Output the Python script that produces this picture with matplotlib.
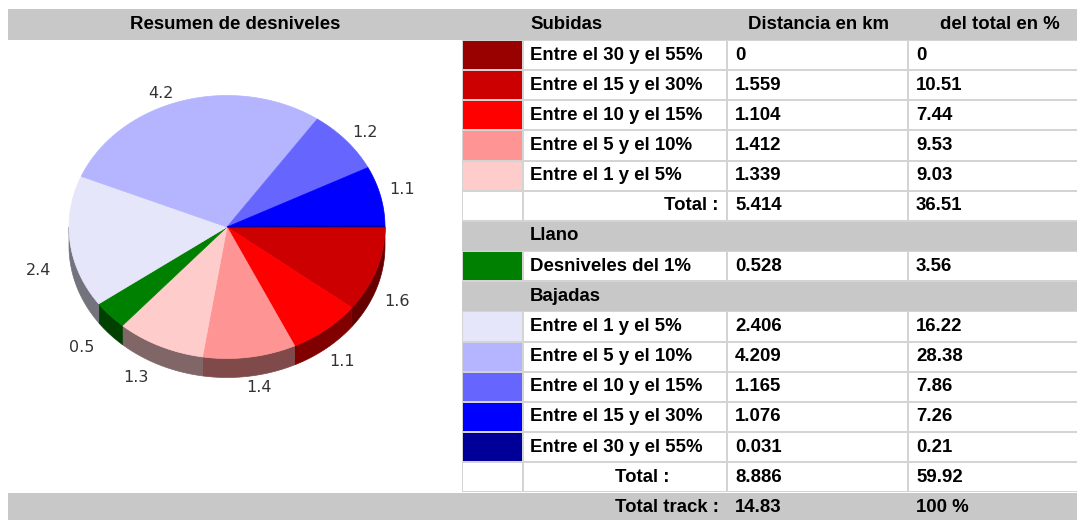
import numpy as np
import matplotlib
matplotlib.use("Agg")
import matplotlib.pyplot as plt
from matplotlib.patches import Rectangle, Polygon

# ---------------- data ----------------
title = "Resumen de desniveles"
col_headers = ["Subidas", "Distancia en km", "del total en %"]

sub_labels = ["Entre el 30 y el 55%", "Entre el 15 y el 30%", "Entre el 10 y el 15%",
              "Entre el 5 y el 10%", "Entre el 1 y el 5%"]
sub_km = [0, 1.559, 1.104, 1.412, 1.339]
sub_pct = [0, 10.51, 7.44, 9.53, 9.03]
sub_colors = ["#990000", "#cc0000", "#ff0000", "#ff9494", "#ffcccc"]
sub_total_km, sub_total_pct = 5.414, 36.51

llano_label = "Desniveles del 1%"
llano_km, llano_pct = 0.528, 3.56
llano_color = "#008000"

baj_labels = ["Entre el 1 y el 5%", "Entre el 5 y el 10%", "Entre el 10 y el 15%",
              "Entre el 15 y el 30%", "Entre el 30 y el 55%"]
baj_km = [2.406, 4.209, 1.165, 1.076, 0.031]
baj_pct = [16.22, 28.38, 7.86, 7.26, 0.21]
baj_colors = ["#e6e6fa", "#b4b4ff", "#6666ff", "#0000ff", "#000099"]
baj_total_km, baj_total_pct = 8.886, 59.92

track_total_km, track_total_pct = 14.83, 100

# ---------------- helpers ----------------
def fmt_km(v):
    return "0" if v == 0 else f"{v:.3f}"

def fmt_pct(v):
    return "0" if v == 0 else f"{v:.2f}"

W, H = 1077, 520
fig = plt.figure(figsize=(W / 100, H / 100), dpi=100)
ax = fig.add_axes([0, 0, 1, 1])
ax.set_xlim(0, W)
ax.set_ylim(H, 0)
ax.axis("off")

HDR_GRAY = "#c8c8c8"
LINE_GRAY = "#d4d4d4"
FONT = "Liberation Sans"
FS = 13.4

# ---------------- table geometry ----------------
cols = [462, 523, 727, 908, 1079]
y_hdr0, y_hdr1 = 9, 40
row_h = 30.15

def row_y(k):
    return y_hdr1 + row_h * k

# header band (full width)
ax.add_patch(Rectangle((8, y_hdr0), W - 8, y_hdr1 - y_hdr0, fc=HDR_GRAY, ec="none"))
ax.text(235, (y_hdr0 + y_hdr1) / 2, title, fontsize=FS, fontweight="bold", family=FONT,
        ha="center", va="center")
ax.text(530, (y_hdr0 + y_hdr1) / 2, col_headers[0], fontsize=FS, fontweight="bold",
        family=FONT, ha="left", va="center")
ax.text(818, (y_hdr0 + y_hdr1) / 2, col_headers[1], fontsize=FS, fontweight="bold",
        family=FONT, ha="center", va="center")
ax.text(1000, (y_hdr0 + y_hdr1) / 2, col_headers[2], fontsize=FS, fontweight="bold",
        family=FONT, ha="center", va="center")

# table background (borders)
ax.add_patch(Rectangle((cols[0], y_hdr1), W - cols[0], row_y(15) - y_hdr1, fc=LINE_GRAY, ec="none"))

def white_row(k, swatch=None):
    y0, y1 = row_y(k), row_y(k + 1)
    for i in range(4):
        fc = "white"
        if i == 0 and swatch is not None:
            fc = swatch
        ax.add_patch(Rectangle((cols[i] + 1, y0 + 1), cols[i + 1] - cols[i] - 2, y1 - y0 - 2,
                               fc=fc, ec="none"))

def gray_row(k, text):
    y0, y1 = row_y(k), row_y(k + 1)
    ax.add_patch(Rectangle((cols[0], y0 + 1), W - cols[0], y1 - y0 - 1, fc=HDR_GRAY, ec="none"))
    ax.text(530, (y0 + y1) / 2, text, fontsize=FS, fontweight="bold", family=FONT,
            ha="left", va="center")

def row_texts(k, label, km, pct, label_x=530, ha="left"):
    yc = (row_y(k) + row_y(k + 1)) / 2
    ax.text(label_x, yc, label, fontsize=FS, fontweight="bold", family=FONT, ha=ha, va="center")
    ax.text(735, yc, km, fontsize=FS, fontweight="bold", family=FONT, ha="left", va="center")
    ax.text(916, yc, pct, fontsize=FS, fontweight="bold", family=FONT, ha="left", va="center")

k = 0
for lab, km, pc, col in zip(sub_labels, sub_km, sub_pct, sub_colors):
    white_row(k, col)
    row_texts(k, lab, fmt_km(km), fmt_pct(pc))
    k += 1
white_row(k)
row_texts(k, "Total :", fmt_km(sub_total_km), fmt_pct(sub_total_pct), label_x=719, ha="right")
k += 1
gray_row(k, "Llano")
k += 1
white_row(k, llano_color)
row_texts(k, llano_label, fmt_km(llano_km), fmt_pct(llano_pct))
k += 1
gray_row(k, "Bajadas")
k += 1
for lab, km, pc, col in zip(baj_labels, baj_km, baj_pct, baj_colors):
    white_row(k, col)
    row_texts(k, lab, fmt_km(km), fmt_pct(pc))
    k += 1
white_row(k)
row_texts(k, "Total :", fmt_km(baj_total_km), fmt_pct(baj_total_pct), label_x=642, ha="center")
k += 1
# total track band (full width)
y0 = row_y(k)
ax.add_patch(Rectangle((8, y0 + 1), W - 8, H - y0, fc=HDR_GRAY, ec="none"))
yc = y0 + row_h / 2
ax.text(719, yc, "Total track :", fontsize=FS, fontweight="bold", family=FONT, ha="right", va="center")
ax.text(735, yc, f"{track_total_km:.2f}", fontsize=FS, fontweight="bold", family=FONT, ha="left", va="center")
ax.text(916, yc, f"{track_total_pct} %", fontsize=FS, fontweight="bold", family=FONT, ha="left", va="center")

# ---------------- 3D pie ----------------
pie_vals = np.array(sub_km + [llano_km] + baj_km, dtype=float)
pie_cols = sub_colors + [llano_color] + baj_colors
cx, cy, rx, ry, depth = 227, 227, 158, 131.5, 19

def darker(c, f=0.5):
    r, g, b = matplotlib.colors.to_rgb(c)
    return (r * f, g * f, b * f)

def ell(t):
    t = np.radians(t)
    return cx + rx * np.cos(t), cy + ry * np.sin(t)

angles = np.concatenate([[0], np.cumsum(pie_vals) / pie_vals.sum() * 360])

# sides (front half only: 0..180 deg clockwise from east)
for i, v in enumerate(pie_vals):
    if v <= 0:
        continue
    a, b = max(angles[i], 0), min(angles[i + 1], 180)
    if b <= a:
        continue
    t = np.linspace(a, b, 60)
    x, y = ell(t)
    pts = np.column_stack([np.concatenate([x, x[::-1]]),
                           np.concatenate([y, y[::-1] + depth])])
    dc = darker(pie_cols[i])
    ax.add_patch(Polygon(pts, closed=True, fc=dc, ec=dc, lw=0.5))

# top faces
for i, v in enumerate(pie_vals):
    if v <= 0:
        continue
    t = np.linspace(angles[i], angles[i + 1], 120)
    x, y = ell(t)
    pts = np.column_stack([np.concatenate([[cx], x]), np.concatenate([[cy], y])])
    ax.add_patch(Polygon(pts, closed=True, fc=pie_cols[i], ec=pie_cols[i], lw=0.5))

# labels
for i, v in enumerate(pie_vals):
    if v < 0.05:
        continue
    mid = np.radians((angles[i] + angles[i + 1]) / 2)
    c, s = np.cos(mid), np.sin(mid)
    lx = cx - 5 + 172 * c
    ly = cy + 12 + 150 * s + 15 * np.sign(s) * c * c
    ax.text(lx, ly, f"{v:.1f}", fontsize=11.5, family="DejaVu Sans", color="#333333",
            ha="left" if c > 0 else "right", va="center")

fig.savefig("out.png", dpi=100)
